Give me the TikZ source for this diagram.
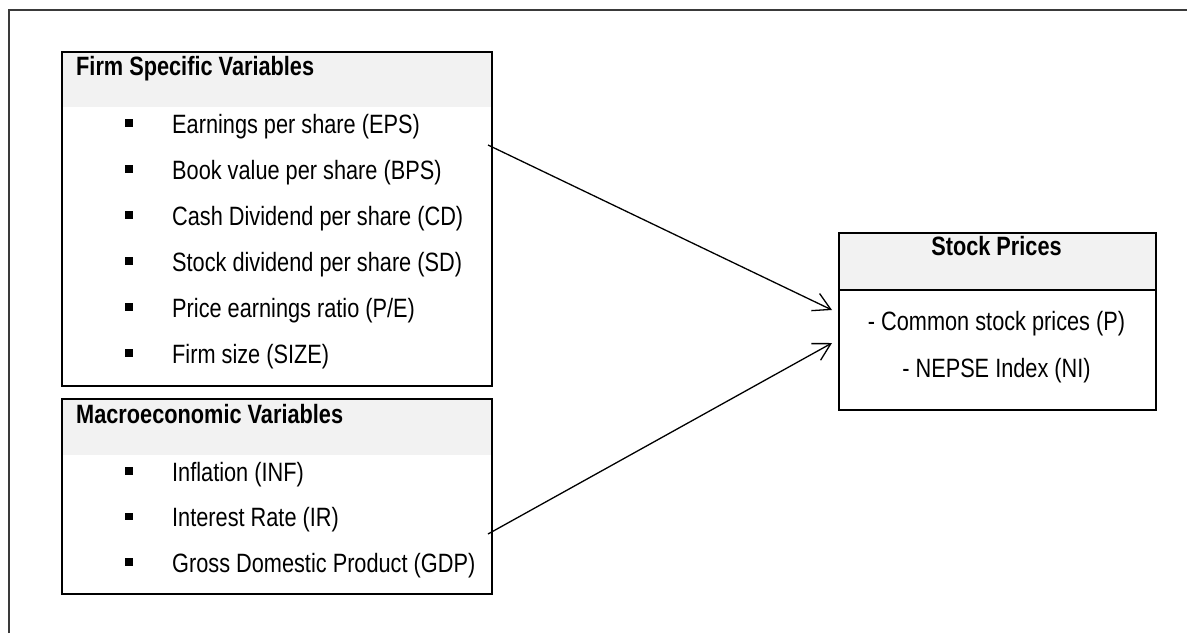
\documentclass[tikz,border=0pt]{standalone}
\usepackage{fontspec}
\setmainfont{Liberation Sans}[FakeStretch=0.82]
\usetikzlibrary{arrows.meta}
\definecolor{hdrgray}{HTML}{F2F2F2}
\definecolor{framegray}{HTML}{3A3A3A}
\tikzset{
  txt/.style={inner sep=0pt, font=\fontsize{26.5}{31}\selectfont},
  item/.style={txt, anchor=base west},
  head/.style={txt, anchor=base west, font=\fontsize{26.5}{31}\selectfont\bfseries},
  panel/.style={draw=black, line width=2pt, anchor=north west, inner sep=0pt},
  hdrbox/.style={fill=hdrgray, anchor=north west, inner sep=0pt},
  bulletsq/.style={fill=black, minimum size=7.2pt, inner sep=0pt},
  conn/.style={line width=1.3pt, -{Straight Barb[length=17pt,width=19pt,line width=1.3pt]}},
  frame/.style={draw=framegray, line width=1.6pt}
}
\begin{document}
\begin{tikzpicture}[x=1pt,y=-1pt]
\useasboundingbox (0,0) rectangle (1187,633);
\fill[white] (0,0) rectangle (1187,633);
% outer frame (partial)
\draw[frame] (9,633) -- (9,10) -- (1187,10);

% ---- Box 1: Firm specific variables
\node[hdrbox, minimum width=430pt, minimum height=56pt] (h1) at (61,51) {};
\node[panel, minimum width=430pt, minimum height=334pt] (box1) at (61,51) {};
\node[head] (h1t) at (76,75) {Firm Specific Variables};
\foreach \i/\t in {0/{Earnings per share (EPS)}, 1/{Book value per share (BPS)}, 2/{Cash Dividend per share (CD)}, 3/{Stock dividend per share (SD)}, 4/{Price earnings ratio (P/E)}, 5/{Firm size (SIZE)}}{
  \node[bulletsq] (b1\i) at (129,123+46*\i) {};
  \node[item] (t1\i) at (172,133+46*\i) {\t};
}

% ---- Box 2: Macroeconomic variables
\node[hdrbox, minimum width=430pt, minimum height=57pt] (h2) at (61,398) {};
\node[panel, minimum width=430pt, minimum height=195pt] (box2) at (61,398) {};
\node[head] (h2t) at (76,423) {Macroeconomic Variables};
\foreach \i/\t in {0/{Inflation (INF)}, 1/{Interest Rate (IR)}, 2/{Gross Domestic Product (GDP)}}{
  \node[bulletsq] (b2\i) at (129,471+45.5*\i) {};
  \node[item] (t2\i) at (172,481+45.5*\i) {\t};
}

% ---- Box 3: Stock prices
\node[hdrbox, draw=black, line width=2pt, minimum width=317pt, minimum height=57pt] (h3) at (838,232) {};
\node[panel, minimum width=317pt, minimum height=177pt] (box3) at (838,232) {};
\node[txt, anchor=base, font=\fontsize{26.5}{31}\selectfont\bfseries] (h3t) at (996.5,255) {Stock Prices};
\node[txt, anchor=base] (p1) at (996.5,330) {- Common stock prices (P)};
\node[txt, anchor=base] (p2) at (996.5,377) {- NEPSE Index (NI)};

% ---- connectors
\coordinate (s1) at (488,145);
\coordinate (e1) at (832,310);
\coordinate (s2) at (488,534);
\coordinate (e2) at (832,343);
\draw[conn] (s1) -- (e1);
\draw[conn] (s2) -- (e2);
\end{tikzpicture}
\end{document}
